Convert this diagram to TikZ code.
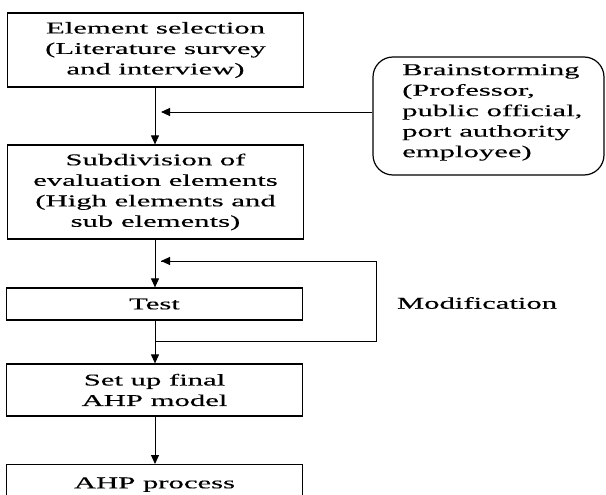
\documentclass[tikz,border=0pt]{standalone}
\usepackage{fontspec}
\setmainfont{Liberation Serif}[FakeStretch=1.86,FakeBold=0.25]
\usetikzlibrary{arrows.meta}
\begin{document}
\begin{tikzpicture}[x=1pt,y=-1pt,
  box/.style={draw, line width=1.2pt, minimum width=296pt, inner sep=0pt, align=center,
    font=\fontsize{16.5}{20.5}\selectfont},
  flow/.style={line width=0.9pt, -{Triangle[length=9pt,width=8pt]}},
  side/.style={line width=0.7pt}
]
\useasboundingbox (0,0) rectangle (606,495);
\node[box, minimum height=74pt] (b1) at (155.5,50) {Element selection\\(Literature survey\\and interview)};
\node[box, minimum height=94pt] (b2) at (155.5,192) {Subdivision of\\evaluation elements\\(High elements and\\sub elements)};
\node[box, minimum height=32pt] (b3) at (154.5,304) {Test};
\node[box, minimum height=52pt] (b4) at (154.5,390) {Set up final\\AHP model};
\node[box, minimum height=40pt, anchor=north] (b5) at (154.5,464) {AHP process};
\node[draw, line width=1.2pt, rounded corners=20pt, minimum width=231pt, minimum height=118pt,
  inner sep=0pt] (bs) at (488.5,116) {};
\node[anchor=north west, align=left, inner sep=0pt, font=\fontsize{16.5}{20.5}\selectfont,
  text depth=0pt] (bstext) at (402,64) {Brainstorming\\(Professor,\\public official,\\port authority\\employee)};
\node[font=\fontsize{16.5}{20.5}\selectfont] (mod) at (477,303) {Modification};
\coordinate (j1) at (161,112);
\coordinate (s1) at (155,341);
\coordinate (c1) at (376,341);
\coordinate (c2) at (376,261);
\coordinate (j2) at (161,261);
\draw[flow] (b1.south -| 155,0) -- (b2.north -| 155,0);
\draw[flow] (b2.south -| 155,0) -- (b3.north -| 155,0);
\draw[flow] (b3.south -| 155,0) -- (b4.north -| 155,0);
\draw[flow] (b4.south -| 155,0) -- (b5.north -| 155,0);
\draw[flow] (bs.west |- j1) -- (j1);
\draw[side] (s1) -- (c1) -- (c2) -- (j2);
\draw[flow] (c2) ++(-1,0) -- (j2);
\end{tikzpicture}
\end{document}
